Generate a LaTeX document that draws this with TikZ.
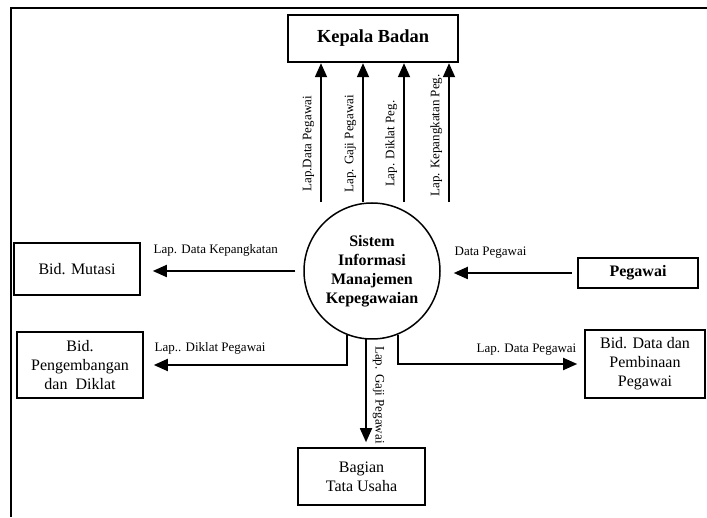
\documentclass[tikz,border=0pt]{standalone}
\usepackage{fontspec}
\setmainfont{Liberation Serif}
\usetikzlibrary{arrows.meta}

\begin{document}
\begin{tikzpicture}[x=1pt,y=1pt,->,>={Triangle[length=14pt,width=12pt]},
            box/.style={draw,line width=1.6pt,align=center,inner sep=0pt,font=\fontsize{16}{19}\selectfont},
            flow/.style={line width=1.8pt},
            lbl/.style={font=\fontsize{13}{15}\selectfont,inner sep=0pt},
            vlbl/.style={font=\fontsize{13}{15}\selectfont,inner xsep=0pt,inner ysep=6pt,anchor=south}]
            \useasboundingbox (0,0) rectangle (707,517);
            \draw[-,line width=2pt] (707,509) -- (11,509) -- (11,0);
            \node[box,line width=2.4pt,minimum width=170pt,minimum height=47pt,font=\fontsize{18.4}{22}\selectfont\bfseries] (kepala) at (373,478.5) {Kepala Badan};
            \node[box,circle,line width=1.5pt,minimum size=136pt,font=\fontsize{16}{19}\selectfont\bfseries] (sim) at (372,246) {Sistem\\Informasi\\Manajemen\\Kepegawaian};
            \node[box,minimum width=126pt,minimum height=52pt] (mutasi) at (77,248) {Bid. Mutasi};
            \node[box,line width=2.4pt,minimum width=120pt,minimum height=30pt,font=\fontsize{16}{19}\selectfont\bfseries] (pegawai) at (638,244) {Pegawai};
            \node[box,minimum width=126pt,minimum height=66pt] (diklat) at (80,152) {Bid.\\Pengembangan\\dan\ \ Diklat};
            \node[box,minimum width=120pt,minimum height=68pt] (pembinaan) at (645,153) {Bid. Data dan\\Pembinaan\\Pegawai};
            \node[box,minimum width=127pt,minimum height=57pt] (tu) at (361.5,40.5) {Bagian\\Tata Usaha};

            \draw[flow] ([xshift=-51pt]sim.north) -- node[vlbl,pos=.42,rotate=90] {Lap.Data Pegawai} ([xshift=-52pt]kepala.south);
            \draw[flow] ([xshift=-9pt]sim.north) -- node[vlbl,pos=.42,rotate=90] {Lap. Gaji Pegawai} ([xshift=-10pt]kepala.south);
            \draw[flow] ([xshift=32pt]sim.north) -- node[vlbl,pos=.42,rotate=90] {Lap. Diklat Peg.} ([xshift=31pt]kepala.south);
            \draw[flow] ([xshift=77pt]sim.north) -- node[vlbl,pos=.48,rotate=90] {Lap. Kepangkatan Peg.} ([xshift=76pt]kepala.south);

            \draw[flow] ([xshift=-8pt]sim.west) -- ([xshift=12pt]sim.west -| mutasi.east)
                node[lbl,pos=1,anchor=base west,yshift=17.5pt] {Lap. Data Kepangkatan};
            \draw[flow] ([xshift=-5pt]pegawai.west) -- ([xshift=13pt]sim.east |- pegawai.west)
                node[lbl,pos=1,anchor=base west,yshift=17.5pt] {Data Pegawai};
            \draw[flow] (sim.249) |- ([xshift=10pt]diklat.east)
                node[lbl,pos=1,anchor=base west,yshift=13pt] {Lap.. Diklat Pegawai};
            \draw[flow] (sim.292) |- ([xshift=-7pt]pembinaan.west)
                node[lbl,pos=1,anchor=base east,yshift=11.5pt] {Lap. Data Pegawai};
            \draw[flow] (sim.265) -- node[vlbl,pos=.54,rotate=-90] {Lap. Gaji Pegawai} ([yshift=5pt]sim.265 |- tu.north);
        \end{tikzpicture}
\end{document}
